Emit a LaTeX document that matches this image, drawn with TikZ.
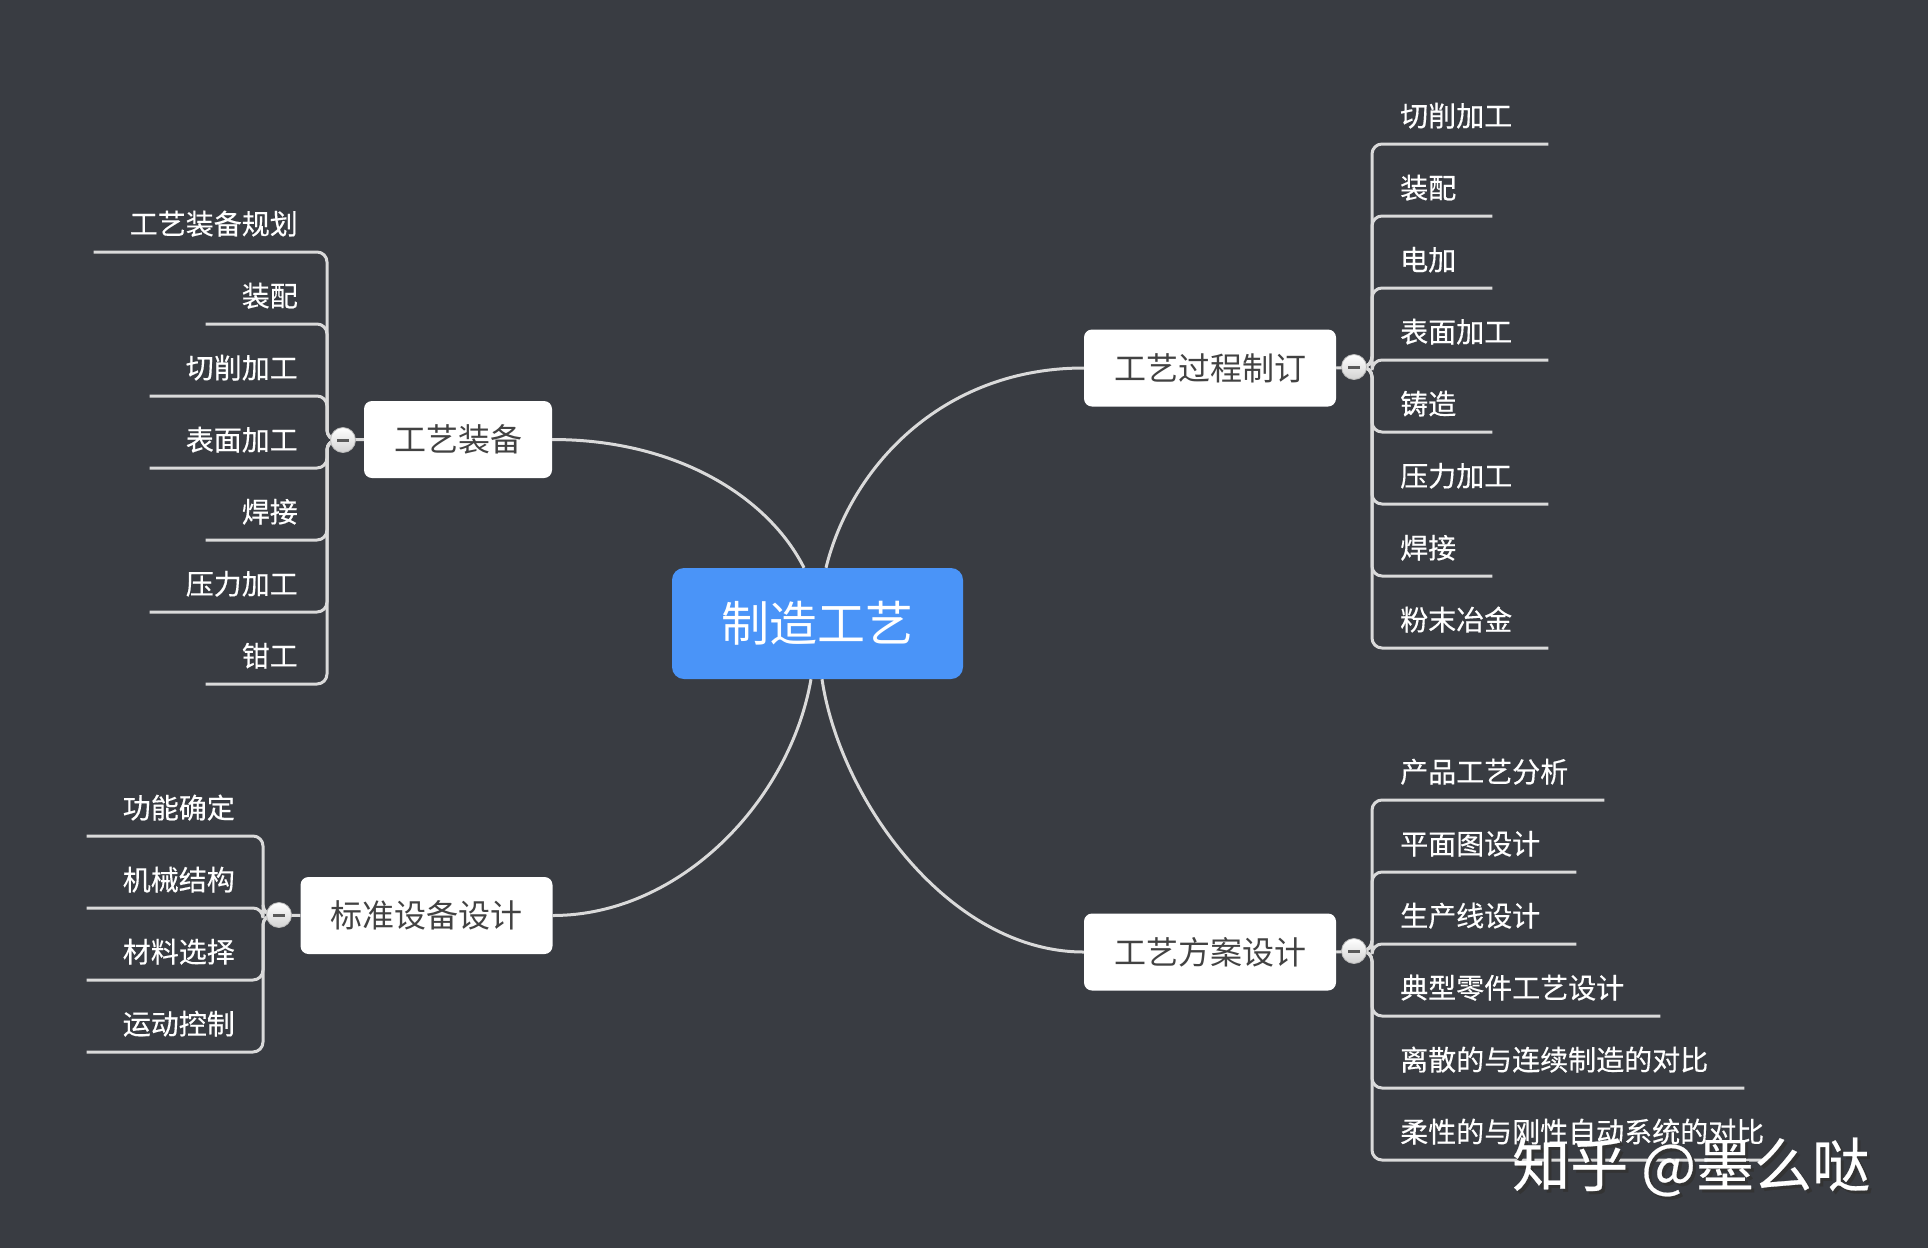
\documentclass[tikz,border=0pt]{standalone}
\usepackage{fontspec}
\setmainfont{Noto Sans CJK SC}
\newfontfamily\leaffont{Noto Sans CJK SC}[FakeBold=0.4]
\definecolor{bgdark}{RGB}{57,60,66}
\definecolor{rootblue}{RGB}{74,148,248}
\definecolor{linegray}{RGB}{218,218,218}
\definecolor{boxtext}{RGB}{66,66,66}
\definecolor{minusgray}{RGB}{90,90,90}
\tikzset{
  topic/.style={fill=white, rounded corners=8pt, text=boxtext, font=\fontsize{32}{38}\selectfont,
    inner xsep=30pt, minimum height=77pt, text height=26pt, text depth=2pt},
  leaf/.style={text=white, font=\leaffont\fontsize{28}{34}\selectfont, inner sep=0pt, text height=24pt, text depth=17.5pt},
  link/.style={draw=linegray, line width=3pt, rounded corners=10pt},
  trunk/.style={draw=linegray, line width=3pt},
  foldbtn/.style={circle, minimum size=25pt, inner sep=0pt, top color=white, bottom color=gray!35,
    draw=gray!55, line width=0.8pt,
    path picture={\fill[minusgray] ([xshift=-6pt,yshift=-1.5pt]path picture bounding box.center)
      rectangle ([xshift=6pt,yshift=1.5pt]path picture bounding box.center);}},
  wmark/.style={font=\leaffont\fontsize{58}{64}\selectfont, anchor=west, inner sep=0pt}
}
\begin{document}
\begin{tikzpicture}[x=1pt,y=-1pt]
  \fill[bgdark] (0,0) rectangle (1928,1248);
  \useasboundingbox (0,0) rectangle (1928,1248);
  % centre and main topics
  \node[fill=rootblue, rounded corners=12pt, text=white, font=\fontsize{48}{56}\selectfont,
    minimum width=291pt, minimum height=111pt, text height=38pt, text depth=2pt] (root) at (817.5,623.5) {制造工艺};
  \node[topic] (b1) at (458,439.5) {工艺装备};
  \node[topic] (b2) at (1210,368) {工艺过程制订};
  \node[topic] (b3) at (426.5,915.5) {标准设备设计};
  \node[topic] (b4) at (1210,952) {工艺方案设计};
  % curved branches
  \draw[trunk] (b1.east) .. controls +(128,0) and +(-34,-68) .. ([xshift=-13.5pt]root.north);
  \draw[trunk] ([xshift=8.5pt]root.north) .. controls +(24,-98) and +(-144,0) .. (b2.west);
  \draw[trunk] (b3.east) .. controls +(128,0) and +(-21,121) .. ([xshift=-6.5pt]root.south);
  \draw[trunk] ([xshift=4.5pt]root.south) .. controls +(18,121) and +(-134,0) .. (b4.west);
  % junctions
  \coordinate (j1) at (343,440);
  \coordinate (j2) at (1354,367);
  \coordinate (j3) at (279,915);
  \coordinate (j4) at (1354,951);
  \draw[link] (b1.west) -- (j1);
  \draw[link] (b2.east) -- (j2);
  \draw[link] (b3.west) -- (j3);
  \draw[link] (b4.east) -- (j4);
  % leaves of 工艺装备
  \node[leaf, anchor=south east] (a1) at (298,252) {工艺装备规划};
  \node[leaf, anchor=south east] (a2) at (298,324) {装配};
  \node[leaf, anchor=south east] (a3) at (298,396) {切削加工};
  \node[leaf, anchor=south east] (a4) at (298,468) {表面加工};
  \node[leaf, anchor=south east] (a5) at (298,540) {焊接};
  \node[leaf, anchor=south east] (a6) at (298,612) {压力加工};
  \node[leaf, anchor=south east] (a7) at (298,684) {钳工};
  \draw[link] (j1) -| ([xshift=29pt]a1.south east) -- ([xshift=-36pt]a1.south west);
  \draw[link] (j1) -| ([xshift=29pt]a2.south east) -- ([xshift=-36pt]a2.south west);
  \draw[link] (j1) -| ([xshift=29pt]a3.south east) -- ([xshift=-36pt]a3.south west);
  \draw[link] (j1) -| ([xshift=29pt]a4.south east) -- ([xshift=-36pt]a4.south west);
  \draw[link] (j1) -| ([xshift=29pt]a5.south east) -- ([xshift=-36pt]a5.south west);
  \draw[link] (j1) -| ([xshift=29pt]a6.south east) -- ([xshift=-36pt]a6.south west);
  \draw[link] (j1) -| ([xshift=29pt]a7.south east) -- ([xshift=-36pt]a7.south west);
  % leaves of 工艺过程制订
  \node[leaf, anchor=south west] (p1) at (1400,144) {切削加工};
  \node[leaf, anchor=south west] (p2) at (1400,216) {装配};
  \node[leaf, anchor=south west] (p3) at (1400,288) {电加};
  \node[leaf, anchor=south west] (p4) at (1400,360) {表面加工};
  \node[leaf, anchor=south west] (p5) at (1400,432) {铸造};
  \node[leaf, anchor=south west] (p6) at (1400,504) {压力加工};
  \node[leaf, anchor=south west] (p7) at (1400,576) {焊接};
  \node[leaf, anchor=south west] (p8) at (1400,648) {粉末冶金};
  \draw[link] (j2) -| ([xshift=-28pt]p1.south west) -- ([xshift=36pt]p1.south east);
  \draw[link] (j2) -| ([xshift=-28pt]p2.south west) -- ([xshift=36pt]p2.south east);
  \draw[link] (j2) -| ([xshift=-28pt]p3.south west) -- ([xshift=36pt]p3.south east);
  \draw[link] (j2) -| ([xshift=-28pt]p4.south west) -- ([xshift=36pt]p4.south east);
  \draw[link] (j2) -| ([xshift=-28pt]p5.south west) -- ([xshift=36pt]p5.south east);
  \draw[link] (j2) -| ([xshift=-28pt]p6.south west) -- ([xshift=36pt]p6.south east);
  \draw[link] (j2) -| ([xshift=-28pt]p7.south west) -- ([xshift=36pt]p7.south east);
  \draw[link] (j2) -| ([xshift=-28pt]p8.south west) -- ([xshift=36pt]p8.south east);
  % leaves of 标准设备设计
  \node[leaf, anchor=south east] (s1) at (235,836) {功能确定};
  \node[leaf, anchor=south east] (s2) at (235,908) {机械结构};
  \node[leaf, anchor=south east] (s3) at (235,980) {材料选择};
  \node[leaf, anchor=south east] (s4) at (235,1052) {运动控制};
  \draw[link] (j3) -| ([xshift=28pt]s1.south east) -- ([xshift=-36pt]s1.south west);
  \draw[link] (j3) -| ([xshift=28pt]s2.south east) -- ([xshift=-36pt]s2.south west);
  \draw[link] (j3) -| ([xshift=28pt]s3.south east) -- ([xshift=-36pt]s3.south west);
  \draw[link] (j3) -| ([xshift=28pt]s4.south east) -- ([xshift=-36pt]s4.south west);
  % leaves of 工艺方案设计
  \node[leaf, anchor=south west] (d1) at (1400,800) {产品工艺分析};
  \node[leaf, anchor=south west] (d2) at (1400,872) {平面图设计};
  \node[leaf, anchor=south west] (d3) at (1400,944) {生产线设计};
  \node[leaf, anchor=south west] (d4) at (1400,1016) {典型零件工艺设计};
  \node[leaf, anchor=south west] (d5) at (1400,1088) {离散的与连续制造的对比};
  \node[leaf, anchor=south west] (d6) at (1400,1160) {柔性的与刚性自动系统的对比};
  \draw[link] (j4) -| ([xshift=-28pt]d1.south west) -- ([xshift=36pt]d1.south east);
  \draw[link] (j4) -| ([xshift=-28pt]d2.south west) -- ([xshift=36pt]d2.south east);
  \draw[link] (j4) -| ([xshift=-28pt]d3.south west) -- ([xshift=36pt]d3.south east);
  \draw[link] (j4) -| ([xshift=-28pt]d4.south west) -- ([xshift=36pt]d4.south east);
  \draw[link] (j4) -| ([xshift=-28pt]d5.south west) -- ([xshift=36pt]d5.south east);
  \draw[link] (j4) -| ([xshift=-28pt]d6.south west) -- (d6.south east);
  % fold buttons
  \node[foldbtn] (f1) at (j1) {};
  \node[foldbtn] (f2) at (j2) {};
  \node[foldbtn] (f3) at (j3) {};
  \node[foldbtn] (f4) at (j4) {};
  % watermark
  \node[wmark, text=black!80] (wms) at (1515,1170) {知乎 @墨么哒};
  \node[wmark, text=white] (wm) at (1512,1167) {知乎 @墨么哒};
\end{tikzpicture}
\end{document}
